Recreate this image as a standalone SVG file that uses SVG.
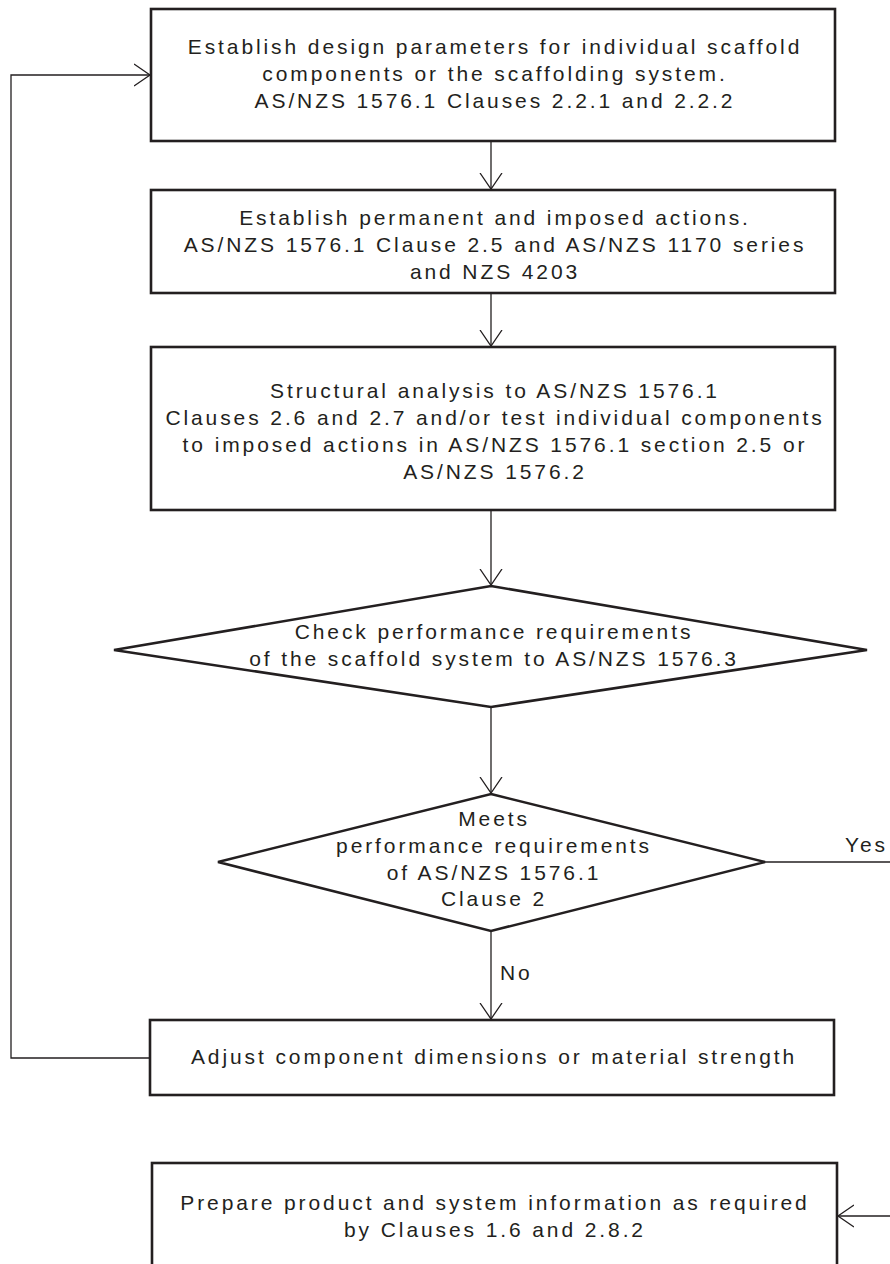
<svg xmlns="http://www.w3.org/2000/svg" width="890" height="1264" viewBox="0 0 890 1264">
<style>
.n{fill:#fff;stroke:#231f20;stroke-width:2.6}
.t{font-family:"Liberation Sans",Arial,sans-serif;font-size:21px;letter-spacing:2.9px;fill:#231f20;text-anchor:middle}
.l{font-family:"Liberation Sans",Arial,sans-serif;font-size:21px;letter-spacing:2.9px;fill:#231f20}
.c{fill:none;stroke:#231f20;stroke-width:1.3}
</style>
<defs>
<marker id="a" markerUnits="userSpaceOnUse" markerWidth="24" markerHeight="28" refX="16" refY="11" orient="auto" viewBox="0 0 24 22">
<path d="M0,0 L16,11 L0,22" fill="none" stroke="#231f20" stroke-width="1.3"/>
</marker>
</defs>
<rect width="890" height="1264" fill="#fff"/>
<g id="connectors">
<path class="c" d="M491,141 V189" marker-end="url(#a)"/>
<path class="c" d="M491,293 V346" marker-end="url(#a)"/>
<path class="c" d="M491,510 V585" marker-end="url(#a)"/>
<path class="c" d="M491,707 V793" marker-end="url(#a)"/>
<path class="c" d="M491,931 V1019" marker-end="url(#a)"/>
<path class="c" d="M150,1058 H11 V75 H150" marker-end="url(#a)"/>
<path class="c" d="M765,862 H890"/>
<path class="c" d="M890,1216 H838" marker-end="url(#a)"/>
<text class="l" x="845" y="852">Yes</text>
<text class="l" x="500" y="980">No</text>
</g>
<g id="n1">
<rect class="n" x="151" y="9" width="684" height="132"/>
<text class="t" x="495" y="54">Establish design parameters for individual scaffold</text>
<text class="t" x="495" y="81">components or the scaffolding system.</text>
<text class="t" x="495" y="108">AS/NZS 1576.1 Clauses 2.2.1 and 2.2.2</text>
</g>
<g id="n2">
<rect class="n" x="151" y="190" width="684" height="103"/>
<text class="t" x="495" y="225">Establish permanent and imposed actions.</text>
<text class="t" x="495" y="252">AS/NZS 1576.1 Clause 2.5 and AS/NZS 1170 series</text>
<text class="t" x="495" y="279">and NZS 4203</text>
</g>
<g id="n3">
<rect class="n" x="151" y="347" width="684" height="163"/>
<text class="t" x="495" y="398">Structural analysis to AS/NZS 1576.1</text>
<text class="t" x="495" y="425">Clauses 2.6 and 2.7 and/or test individual components</text>
<text class="t" x="495" y="452">to imposed actions in AS/NZS 1576.1 section 2.5 or</text>
<text class="t" x="495" y="479">AS/NZS 1576.2</text>
</g>
<g id="d1">
<polygon class="n" points="491,586 867,650 491,707 114,650"/>
<text class="t" x="494" y="639">Check performance requirements</text>
<text class="t" x="494" y="666">of the scaffold system to AS/NZS 1576.3</text>
</g>
<g id="d2">
<polygon class="n" points="491,794 765,862 491,931 218,862"/>
<text class="t" x="494" y="826">Meets</text>
<text class="t" x="494" y="853">performance requirements</text>
<text class="t" x="494" y="880">of AS/NZS 1576.1</text>
<text class="t" x="494" y="906">Clause 2</text>
</g>
<g id="n4">
<rect class="n" x="150" y="1020" width="684" height="75"/>
<text class="t" x="494" y="1064">Adjust component dimensions or material strength</text>
</g>
<g id="n5">
<rect class="n" x="152" y="1163" width="685" height="140"/>
<text class="t" x="495" y="1210">Prepare product and system information as required</text>
<text class="t" x="495" y="1237">by Clauses 1.6 and 2.8.2</text>
</g>
</svg>
